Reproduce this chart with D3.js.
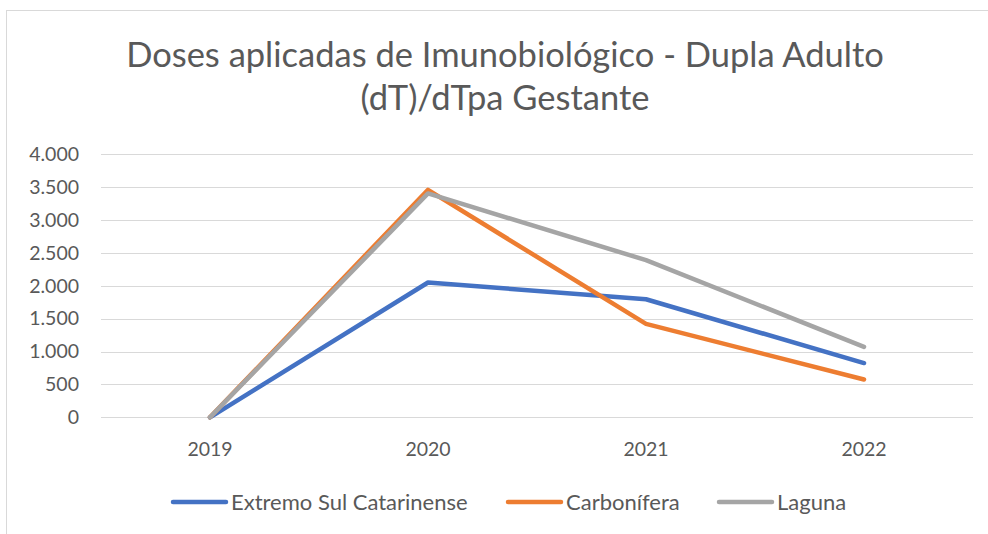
<!DOCTYPE html>
<html>
<head>
<meta charset="utf-8">
<script src="https://cdn.jsdelivr.net/npm/d3@7"></script>
<style>
  body { margin: 0; background: #fff; }
  svg { font-family: Lato, "Open Sans", sans-serif; }
</style>
</head>
<body>
<div id="chart"></div>
<script>
const years = ["2019", "2020", "2021", "2022"];
const extremoSul = [0, 2050, 1795, 825];
const carbonifera = [0, 3460, 1420, 575];
const laguna = [0, 3405, 2390, 1072];
const yTicks = [0, 500, 1000, 1500, 2000, 2500, 3000, 3500, 4000];

const series = [
  { name: "Extremo Sul Catarinense", values: extremoSul, color: "#4472C4" },
  { name: "Carbonífera", values: carbonifera, color: "#ED7D31" },
  { name: "Laguna", values: laguna, color: "#A5A5A5" }
];

const width = 988, height = 534;
const svg = d3.select("#chart").append("svg")
  .attr("width", width)
  .attr("height", height);

// chart border
svg.append("rect")
  .attr("x", 6.5).attr("y", 10.5)
  .attr("width", width + 10).attr("height", height + 10)
  .attr("fill", "none")
  .attr("stroke", "#d9d9d9");

// title
const title = svg.append("text")
  .attr("text-anchor", "middle")
  .attr("fill", "#595959")
  .style("font-size", "34.5px");
title.append("tspan").attr("x", 505).attr("y", 67).text("Doses aplicadas de Imunobiológico - Dupla Adulto");
title.append("tspan").attr("x", 505).attr("y", 110).text("(dT)/dTpa Gestante");

const x = d3.scaleBand().domain(years).range([101, 973]);
const y = d3.scaleLinear().domain([0, 4000]).range([417.3, 154.3]);

// gridlines
svg.append("g")
  .selectAll("line")
  .data(yTicks)
  .join("line")
  .attr("x1", 101).attr("x2", 973)
  .attr("y1", d => Math.round(y(d)) + 0.5)
  .attr("y2", d => Math.round(y(d)) + 0.5)
  .attr("stroke", "#d9d9d9")
  .attr("stroke-width", 1);

// y axis labels
const fmt = d3.formatLocale({ decimal: ",", thousands: ".", grouping: [3], currency: ["R$", ""] }).format(",d");
const yAxis = svg.append("g")
  .attr("transform", "translate(79,0)")
  .call(d3.axisLeft(y).tickValues(yTicks).tickFormat(fmt).tickSize(0).tickPadding(0));
yAxis.select(".domain").remove();
yAxis.selectAll("text")
  .attr("fill", "#595959")
  .style("font-size", "19.5px")
  .style("font-family", "Lato, 'Open Sans', sans-serif");

// x axis labels
const xAxis = svg.append("g")
  .attr("transform", "translate(0,442)")
  .call(d3.axisBottom(x).tickSize(0).tickPadding(0));
xAxis.select(".domain").remove();
xAxis.selectAll("text")
  .attr("fill", "#595959")
  .style("font-size", "19.5px")
  .style("font-family", "Lato, 'Open Sans', sans-serif");

// lines
const line = d3.line()
  .x((d, i) => x(years[i]) + x.bandwidth() / 2)
  .y(d => y(d));

svg.append("g")
  .selectAll("path")
  .data(series)
  .join("path")
  .attr("d", d => line(d.values))
  .attr("fill", "none")
  .attr("stroke", d => d.color)
  .attr("stroke-width", 4.5)
  .attr("stroke-linecap", "round")
  .attr("stroke-linejoin", "round");

// legend
const legendX = [173, 508, 719];
const legend = svg.append("g")
  .selectAll("g")
  .data(series)
  .join("g")
  .attr("transform", (d, i) => `translate(${legendX[i]},502)`);
legend.append("line")
  .attr("x1", 0).attr("x2", 53)
  .attr("stroke", d => d.color)
  .attr("stroke-width", 4.5)
  .attr("stroke-linecap", "round");
legend.append("text")
  .attr("x", 58)
  .attr("dy", "0.35em")
  .attr("fill", "#595959")
  .style("font-size", "22px")
  .text(d => d.name);
</script>
</body>
</html>
